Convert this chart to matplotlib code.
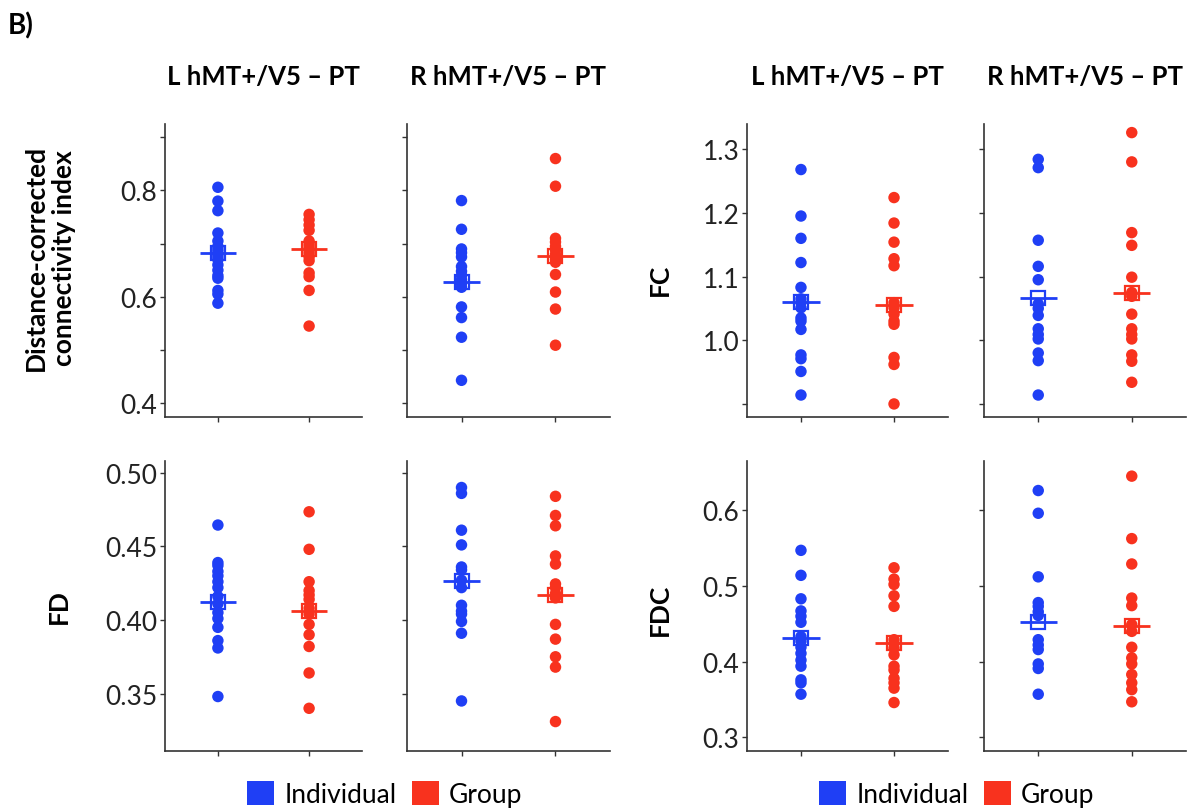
import matplotlib.pyplot as plt
from matplotlib.patches import Patch
import numpy as np

plt.rcParams['font.family'] = ['Lato', 'DejaVu Sans']

W, H = 1187, 812

groups = ["Individual", "Group"]
colors = ["#1f3ff5", "#f8321e"]
col_titles = ["L hMT+/V5 \u2013 PT", "R hMT+/V5 \u2013 PT"]

# distance-corrected connectivity index
dcci_L_ind = [0.806, 0.780, 0.762, 0.720, 0.705, 0.695, 0.690, 0.685, 0.680, 0.675,
              0.670, 0.660, 0.650, 0.640, 0.635, 0.612, 0.605, 0.588]
dcci_L_grp = [0.755, 0.745, 0.735, 0.725, 0.705, 0.700, 0.695, 0.690, 0.685, 0.680,
              0.675, 0.668, 0.645, 0.638, 0.612, 0.545]
dcci_L_mean = [0.683, 0.689]
dcci_R_ind = [0.781, 0.727, 0.690, 0.683, 0.675, 0.657, 0.648, 0.640, 0.632, 0.625,
              0.618, 0.581, 0.561, 0.524, 0.443]
dcci_R_grp = [0.860, 0.808, 0.710, 0.703, 0.695, 0.688, 0.680, 0.675, 0.670, 0.665,
              0.642, 0.609, 0.577, 0.509]
dcci_R_mean = [0.628, 0.677]

# FC
fc_L_ind = [1.268, 1.195, 1.160, 1.122, 1.083, 1.065, 1.059, 1.051, 1.035, 1.030,
            1.017, 0.977, 0.971, 0.951, 0.914]
fc_L_grp = [1.224, 1.184, 1.154, 1.128, 1.117, 1.059, 1.051, 1.041, 1.030, 1.025,
            0.973, 0.962, 0.900]
fc_L_mean = [1.060, 1.055]
fc_R_ind = [1.284, 1.271, 1.157, 1.116, 1.095, 1.057, 1.050, 1.039, 1.018, 1.009,
            1.002, 0.980, 0.968, 0.914]
fc_R_grp = [1.326, 1.280, 1.169, 1.149, 1.099, 1.075, 1.069, 1.041, 1.018, 1.009,
            1.002, 0.977, 0.967, 0.934]
fc_R_mean = [1.066, 1.074]

# FD
fd_L_ind = [0.4645, 0.439, 0.437, 0.433, 0.430, 0.426, 0.422, 0.416, 0.411, 0.405,
            0.401, 0.395, 0.386, 0.381, 0.348]
fd_L_grp = [0.4735, 0.448, 0.426, 0.420, 0.417, 0.414, 0.408, 0.404, 0.397, 0.390,
            0.382, 0.364, 0.340]
fd_L_mean = [0.412, 0.406]
fd_R_ind = [0.490, 0.486, 0.461, 0.451, 0.436, 0.434, 0.427, 0.422, 0.410, 0.406,
            0.404, 0.399, 0.391, 0.345]
fd_R_grp = [0.484, 0.471, 0.464, 0.4435, 0.438, 0.4245, 0.422, 0.418, 0.415, 0.397,
            0.387, 0.375, 0.368, 0.331]
fd_R_mean = [0.4266, 0.417]

# FDC
fdc_L_ind = [0.547, 0.514, 0.483, 0.467, 0.460, 0.452, 0.433, 0.427, 0.419, 0.411,
             0.402, 0.394, 0.376, 0.372, 0.357]
fdc_L_grp = [0.524, 0.509, 0.502, 0.487, 0.473, 0.429, 0.424, 0.418, 0.409, 0.394,
             0.389, 0.378, 0.372, 0.365, 0.346]
fdc_L_mean = [0.431, 0.425]
fdc_R_ind = [0.626, 0.596, 0.512, 0.478, 0.473, 0.466, 0.461, 0.429, 0.422, 0.416,
             0.397, 0.391, 0.357]
fdc_R_grp = [0.645, 0.5625, 0.529, 0.484, 0.474, 0.449, 0.440, 0.419, 0.405, 0.397,
             0.383, 0.372, 0.363, 0.347]
fdc_R_mean = [0.453, 0.447]

dcci_ticks = [0.4, 0.5, 0.6, 0.7, 0.8, 0.9]
dcci_labels = ["0.4", "", "0.6", "", "0.8", ""]
fc_ticks = [0.9, 1.0, 1.1, 1.2, 1.3]
fc_labels = ["", "1.0", "1.1", "1.2", "1.3"]
fd_ticks = [0.35, 0.40, 0.45, 0.50]
fd_labels = ["0.35", "0.40", "0.45", "0.50"]
fdc_ticks = [0.3, 0.4, 0.5, 0.6]
fdc_labels = ["0.3", "0.4", "0.5", "0.6"]


def px_axes(fig, x0, y0, x1, y1):
    return fig.add_axes([x0 / W, 1 - y1 / H, (x1 - x0) / W, (y1 - y0) / H])


def panel(ax, ind, grp, means, ylim, ticks, labels, show_labels):
    for i, (vals, c) in enumerate(zip([ind, grp], colors)):
        x = np.full(len(vals), i + 1)
        ax.scatter(x, vals, s=68, color=c, edgecolors='none', zorder=2)
        ax.hlines(means[i], i + 1 - 0.2, i + 1 + 0.2, color=c, lw=2, zorder=3)
        ax.plot(i + 1, means[i], 's', mfc='none', mec=c, ms=9.5, mew=1.6, zorder=4)
    ax.set_xlim(0.42, 2.58)
    ax.set_ylim(*ylim)
    ax.set_xticks([1, 2])
    ax.set_xticklabels([])
    ax.set_yticks(ticks)
    ax.set_yticklabels(labels if show_labels else [])
    for s in ['top', 'right']:
        ax.spines[s].set_visible(False)
    for s in ['left', 'bottom']:
        ax.spines[s].set_color('#333333')
        ax.spines[s].set_linewidth(1.2)
    ax.tick_params(length=3.5, width=1, color='#333333', labelsize=19,
                   labelcolor='#222222', pad=2)


fig = plt.figure(figsize=(W / 100, H / 100), dpi=100)

cols_x = [(165, 362), (407, 610), (747, 948), (984, 1186)]
top_y = (125, 418)
bot_y = (462, 752)

specs = [
    (0, top_y, dcci_L_ind, dcci_L_grp, dcci_L_mean, (0.374, 0.925), dcci_ticks, dcci_labels, True),
    (1, top_y, dcci_R_ind, dcci_R_grp, dcci_R_mean, (0.374, 0.925), dcci_ticks, dcci_labels, False),
    (2, top_y, fc_L_ind, fc_L_grp, fc_L_mean, (0.8795, 1.3395), fc_ticks, fc_labels, True),
    (3, top_y, fc_R_ind, fc_R_grp, fc_R_mean, (0.8795, 1.3395), fc_ticks, fc_labels, False),
    (0, bot_y, fd_L_ind, fd_L_grp, fd_L_mean, (0.311, 0.508), fd_ticks, fd_labels, True),
    (1, bot_y, fd_R_ind, fd_R_grp, fd_R_mean, (0.311, 0.508), fd_ticks, fd_labels, False),
    (2, bot_y, fdc_L_ind, fdc_L_grp, fdc_L_mean, (0.282, 0.665), fdc_ticks, fdc_labels, True),
    (3, bot_y, fdc_R_ind, fdc_R_grp, fdc_R_mean, (0.282, 0.665), fdc_ticks, fdc_labels, False),
]

for col, (y0, y1), ind, grp, means, ylim, ticks, labels, show in specs:
    x0, x1 = cols_x[col]
    ax = px_axes(fig, x0, y0, x1, y1)
    panel(ax, ind, grp, means, ylim, ticks, labels, show)
    if y0 == top_y[0]:
        ax.set_title(col_titles[col % 2], fontsize=18.5, fontweight='bold', pad=29)

# row labels
fig.text(50 / W, 1 - 258 / H, "Distance-corrected\nconnectivity index", rotation=90,
         ha='center', va='center', fontsize=19, fontweight='bold', linespacing=1.25)
fig.text(59 / W, 1 - 607 / H, "FD", rotation=90, ha='center', va='center',
         fontsize=19, fontweight='bold')
fig.text(660 / W, 1 - 280 / H, "FC", rotation=90, ha='center', va='center',
         fontsize=19, fontweight='bold')
fig.text(660 / W, 1 - 610 / H, "FDC", rotation=90, ha='center', va='center',
         fontsize=19, fontweight='bold')

fig.text(8 / W, 1 - 26 / H, "B)", ha='left', va='center', fontsize=20, fontweight='bold')

handles = [Patch(facecolor=c, edgecolor='none', label=g) for g, c in zip(groups, colors)]
for cx in [385, 957]:
    fig.legend(handles=handles, loc='center', bbox_to_anchor=(cx / W, 1 - 795 / H),
               ncol=2, frameon=False, fontsize=19, handlelength=1.0, handleheight=1.0,
               handletextpad=0.4, columnspacing=0.6)

fig.savefig("out.png", dpi=100)
